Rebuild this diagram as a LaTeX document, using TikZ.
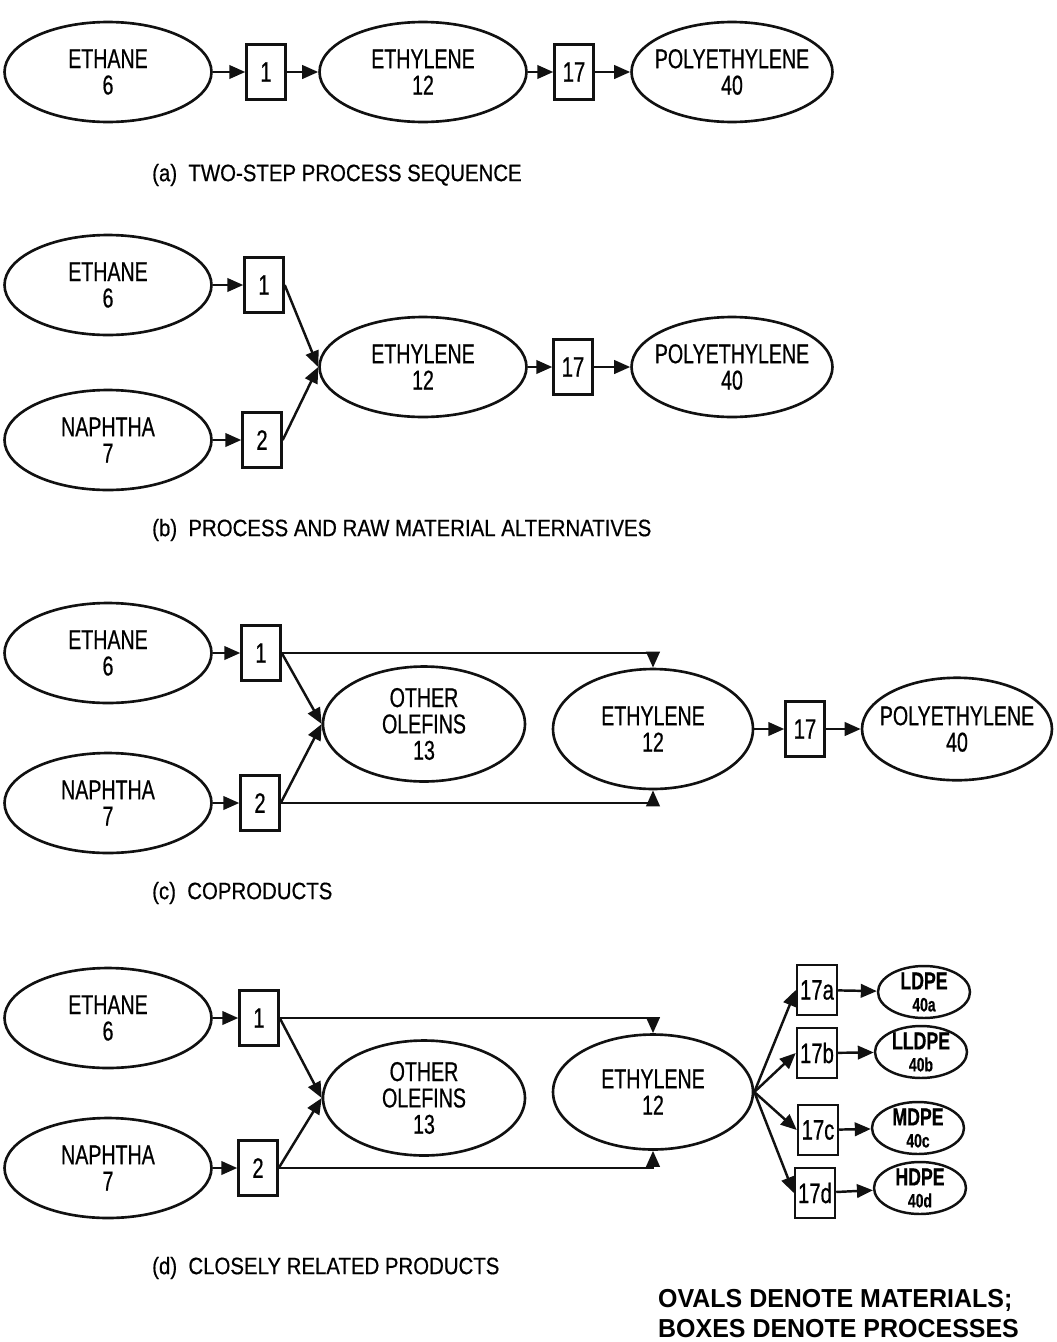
\documentclass[tikz,border=0pt]{standalone}
\usepackage{fontspec}
\setmainfont[FakeStretch=0.72,FakeBold=0.6]{Liberation Sans}
\newfontfamily\captfont[FakeStretch=0.86,FakeBold=0.6]{Liberation Sans}
\newfontfamily\notefont[FakeStretch=0.96]{Liberation Sans}
\usepackage{tikz}
\usetikzlibrary{arrows.meta,positioning,shapes.geometric}
\definecolor{ink}{HTML}{111111}
\newcommand{\grade}[1]{{\fontsize{11}{12}\selectfont #1}}
\tikzset{
  mat/.style={ellipse,draw=ink,line width=1.5pt,inner sep=-14pt,minimum width=4.14cm,minimum height=2cm,
              align=center,font=\fontsize{15.5}{15}\selectfont},
  matsm/.style={ellipse,draw=ink,line width=1.4pt,inner sep=-8pt,minimum width=1.84cm,minimum height=1.04cm,
              align=center,font=\bfseries\fontsize{14}{12.5}\selectfont},
  proc/.style={rectangle,draw=ink,line width=1.4pt,minimum width=0.78cm,minimum height=1.1cm,inner sep=0pt,
              font=\fontsize{16}{15}\selectfont},
  procsm/.style={proc,minimum width=0.8cm,minimum height=1cm},
  flow/.style={-{Triangle[length=3.2mm,width=2.7mm]},line width=1.4pt,draw=ink},
  capt/.style={anchor=west,font=\captfont\fontsize{13.5}{16}\selectfont},
  note/.style={anchor=north west,align=left,font=\notefont\bfseries\fontsize{14.8}{17}\selectfont},
}
\begin{document}
\begin{tikzpicture}[x=0.02cm,y=-0.02cm]
  \useasboundingbox (0,0) rectangle (1057,1342);
  % (a)
  \node[mat]  (aeth)  at (108,72)  {ETHANE\\6};
  \node[proc] (a1)    at (266,72)  {1};
  \node[mat]  (aethy) at (423,72)  {ETHYLENE\\12};
  \node[proc] (a17)   at (574,72)  {17};
  \node[mat,minimum width=4.02cm] (apoly) at (732,72) {POLYETHYLENE\\40};
  \draw[flow] (aeth) -- (a1);
  \draw[flow] (a1) -- (aethy);
  \draw[flow] (aethy) -- (a17);
  \draw[flow] (a17) -- (apoly);
  \node[capt] (acap) at (146,175) {(a)~~TWO-STEP PROCESS SEQUENCE};
  % (b)
  \node[mat]  (beth)  at (108,285) {ETHANE\\6};
  \node[mat]  (bnap)  at (108,440) {NAPHTHA\\7};
  \node[proc] (b1)    at (264,285) {1};
  \node[proc] (b2)    at (262,440) {2};
  \node[mat]  (bethy) at (423,367) {ETHYLENE\\12};
  \node[proc] (b17)   at (573,367) {17};
  \node[mat,minimum width=4.02cm] (bpoly) at (732,367) {POLYETHYLENE\\40};
  \draw[flow] (beth) -- (b1);
  \draw[flow] (bnap) -- (b2);
  \draw[flow] (b1.east) -- (bethy.west);
  \draw[flow] (b2.east) -- (bethy.west);
  \draw[flow] (bethy) -- (b17);
  \draw[flow] (b17) -- (bpoly);
  \node[capt] (bcap) at (146,530) {(b)~~PROCESS AND RAW MATERIAL ALTERNATIVES};
  % (c)
  \node[mat]  (ceth)  at (108,653) {ETHANE\\6};
  \node[mat]  (cnap)  at (108,803) {NAPHTHA\\7};
  \node[proc] (c1)    at (261,653) {1};
  \node[proc] (c2)    at (260,803) {2};
  \node[mat,minimum width=4.04cm,minimum height=2.3cm] (colef) at (424,724) {OTHER\\OLEFINS\\13};
  \node[mat,minimum width=4.0cm,minimum height=2.4cm] (cethy) at (653,729) {ETHYLENE\\12};
  \node[proc] (c17)   at (805,729) {17};
  \node[mat,minimum width=3.8cm,minimum height=2.05cm] (cpoly) at (957,729) {POLYETHYLENE\\40};
  \draw[flow] (ceth) -- (c1);
  \draw[flow] (cnap) -- (c2);
  \draw[flow] (c1.east) -- (colef.west);
  \draw[flow] (c2.east) -- (colef.west);
  \draw[flow] (c1.east) -| (cethy.north);
  \draw[flow] (c2.east) -| (cethy.south);
  \draw[flow] (cethy) -- (c17);
  \draw[flow] (c17) -- (cpoly);
  \node[capt] (ccap) at (146,893) {(c)~~COPRODUCTS};
  % (d)
  \node[mat]  (deth)  at (108,1018) {ETHANE\\6};
  \node[mat]  (dnap)  at (108,1168) {NAPHTHA\\7};
  \node[proc] (d1)    at (259,1018) {1};
  \node[proc] (d2)    at (258,1168) {2};
  \node[mat,minimum width=4.04cm,minimum height=2.3cm] (dolef) at (424,1098) {OTHER\\OLEFINS\\13};
  \node[mat,minimum width=4.0cm,minimum height=2.3cm] (dethy) at (653,1092) {ETHYLENE\\12};
  \node[procsm] (d17a) at (817,990)  {17a};
  \node[procsm] (d17b) at (817,1053) {17b};
  \node[procsm] (d17c) at (818,1130) {17c};
  \node[procsm] (d17d) at (815,1193) {17d};
  \node[matsm] (dldpe)  at (924,992)  {LDPE\\\grade{40a}};
  \node[matsm] (dlldpe) at (921,1052) {LLDPE\\\grade{40b}};
  \node[matsm] (dmdpe)  at (918,1128) {MDPE\\\grade{40c}};
  \node[matsm] (dhdpe)  at (920,1188) {HDPE\\\grade{40d}};
  \draw[flow] (deth) -- (d1);
  \draw[flow] (dnap) -- (d2);
  \draw[flow] (d1.east) -- (dolef.west);
  \draw[flow] (d2.east) -- (dolef.west);
  \draw[flow] (d1.east) -| (dethy.north);
  \draw[flow] (d2.east) -| (dethy.south);
  \foreach \g/\p in {a/ldpe,b/lldpe,c/mdpe,d/hdpe}{
    \draw[flow] (dethy.east) -- (d17\g.west);
    \draw[flow] (d17\g) -- (d\p);
  }
  \node[capt] (dcap) at (146,1268) {(d)~~CLOSELY RELATED PRODUCTS};
  \node[note] (key) at (652,1283) {OVALS DENOTE MATERIALS;\\BOXES DENOTE PROCESSES};
\end{tikzpicture}
\end{document}
